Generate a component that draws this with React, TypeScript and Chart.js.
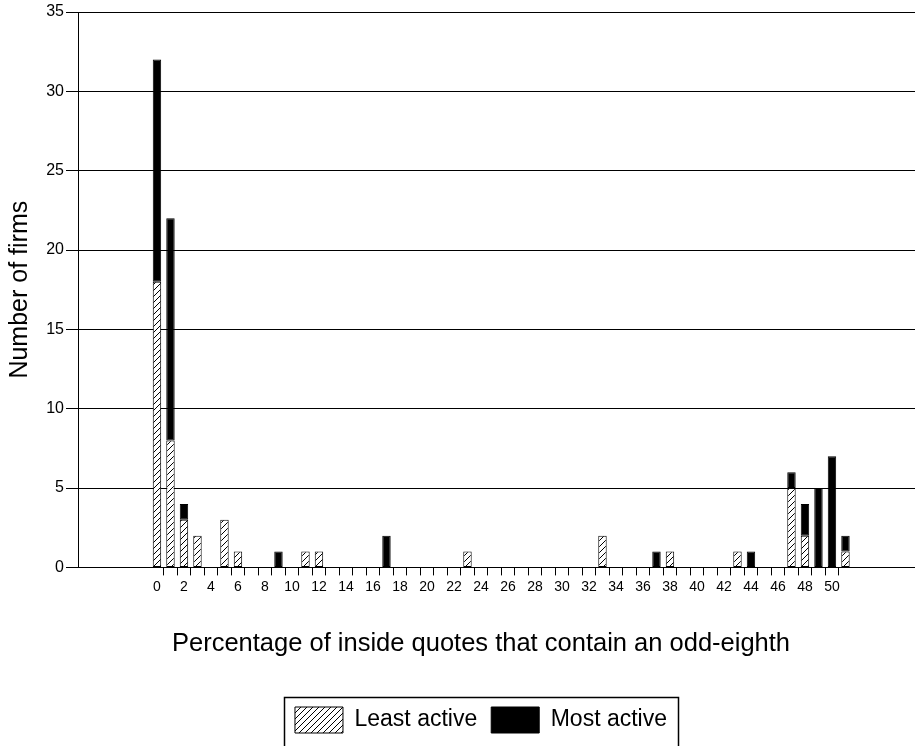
import React, { useEffect, useRef } from 'react';
import { Chart, registerables } from 'chart.js';

Chart.register(...registerables);

// Percentage of inside quotes containing an odd-eighth (one bar per percent)
const categories = [
  0, 1, 2, 3, 4, 5, 6, 7, 8, 9,
  10, 11, 12, 13, 14, 15, 16, 17, 18, 19,
  20, 21, 22, 23, 24, 25, 26, 27, 28, 29,
  30, 31, 32, 33, 34, 35, 36, 37, 38, 39,
  40, 41, 42, 43, 44, 45, 46, 47, 48, 49,
  50, 51,
];

// Number of firms, least active stocks (bottom of stack)
const leastActive = [
  18, 8, 3, 2, 0, 3, 1, 0, 0, 0,
  0, 1, 1, 0, 0, 0, 0, 0, 0, 0,
  0, 0, 0, 1, 0, 0, 0, 0, 0, 0,
  0, 0, 0, 2, 0, 0, 0, 0, 1, 0,
  0, 0, 0, 1, 0, 0, 0, 5, 2, 0,
  0, 1,
];

// Number of firms, most active stocks (top of stack)
const mostActive = [
  14, 14, 1, 0, 0, 0, 0, 0, 0, 1,
  0, 0, 0, 0, 0, 0, 0, 2, 0, 0,
  0, 0, 0, 0, 0, 0, 0, 0, 0, 0,
  0, 0, 0, 0, 0, 0, 0, 1, 0, 0,
  0, 0, 0, 0, 1, 0, 0, 1, 2, 5,
  7, 1,
];

// x tick labels that are printed
const xLabelValues = [
  0, 2, 4, 6, 8, 10, 12, 14, 16, 18, 20, 22, 24, 26,
  28, 30, 32, 34, 36, 38, 40, 42, 44, 46, 48, 50,
];

const seriesNames = ['Least active', 'Most active'];
const xTitle = 'Percentage of inside quotes that contain an odd-eighth';
const yTitle = 'Number of firms';

const FONT = "'Liberation Sans', Arial, Helvetica, sans-serif";

function makeHatch(): CanvasPattern | string {
  const size = 6;
  const c = document.createElement('canvas');
  c.width = size;
  c.height = size;
  const g = c.getContext('2d');
  if (!g) return '#fff';
  g.fillStyle = '#fff';
  g.fillRect(0, 0, size, size);
  g.strokeStyle = '#000';
  g.lineWidth = 1;
  g.beginPath();
  g.moveTo(-1, size + 1);
  g.lineTo(size + 1, -1);
  g.stroke();
  return g.createPattern(c, 'repeat') || '#fff';
}

const legendBorder = {
  id: 'legendBorder',
  afterDraw(chart: any) {
    const lg = chart.legend;
    if (!lg || !lg.legendHitBoxes || !lg.legendHitBoxes.length) return;
    const hb = lg.legendHitBoxes;
    const left = Math.min(...hb.map((h: any) => h.left)) - 11;
    const right = Math.max(...hb.map((h: any) => h.left + h.width)) + 11;
    const top = Math.min(...hb.map((h: any) => h.top)) - 10;
    const ctx = chart.ctx;
    ctx.save();
    ctx.strokeStyle = '#000';
    ctx.lineWidth = 1.5;
    ctx.strokeRect(Math.round(left) + 0.5, Math.round(top) + 0.5, Math.round(right - left), chart.height - top + 20);
    ctx.restore();
  },
};

export default function App() {
  const canvasRef = useRef<HTMLCanvasElement | null>(null);

  useEffect(() => {
    const canvas = canvasRef.current;
    if (!canvas) return;
    const hatch = makeHatch();

    const chart = new Chart(canvas, {
      type: 'bar',
      data: {
        labels: categories,
        datasets: [
          {
            label: seriesNames[0],
            data: leastActive,
            backgroundColor: hatch as any,
            borderColor: '#000',
            borderWidth: 1,
            borderSkipped: false,
            categoryPercentage: 0.8,
            barPercentage: 0.78,
          },
          {
            label: seriesNames[1],
            data: mostActive,
            backgroundColor: '#000',
            borderColor: '#000',
            borderWidth: 1,
            borderSkipped: false,
            categoryPercentage: 0.8,
            barPercentage: 0.78,
          },
        ],
      },
      options: {
        responsive: false,
        animation: false,
        events: [],
        layout: { padding: { left: 47, right: 0, top: 12, bottom: 3 } },
        plugins: {
          legend: {
            position: 'bottom',
            labels: {
              boxWidth: 48,
              boxHeight: 26,
              padding: 14,
              color: '#000',
              font: { family: FONT, size: 23 },
            },
          },
          title: {
            display: true,
            position: 'bottom',
            weight: 500,
            text: xTitle,
            color: '#000',
            font: { family: FONT, size: 25.5, weight: 'normal' },
            padding: { top: 31, bottom: 34 },
          },
          tooltip: { enabled: false },
        },
        scales: {
          x: {
            type: 'linear',
            stacked: true,
            min: -5.85,
            max: 56.15,
            offset: false,
            afterBuildTicks: (s: any) => {
              s.ticks = categories.map((v) => ({ value: v }));
            },
            afterFit: (s: any) => {
              s.height = 30;
            },
            grid: {
              display: true,
              offset: true,
              drawOnChartArea: false,
              drawTicks: true,
              tickLength: 8,
              lineWidth: 1,
              color: '#000',
              tickColor: (ctx: any) =>
                typeof ctx.index === 'number' && ctx.index >= 1 && ctx.index <= 51 ? '#000' : 'rgba(0,0,0,0)',
            },
            border: { display: true, color: '#000', width: 1 },
            ticks: {
              autoSkip: false,
              maxRotation: 0,
              minRotation: 0,
              padding: 3,
              color: '#000',
              font: { family: FONT, size: 14 },
              callback: (v: any) => (xLabelValues.includes(Number(v)) ? String(v) : ''),
            },
          } as any,
          y: {
            stacked: true,
            min: 0,
            max: 35,
            afterFit: (s: any) => {
              s.width = 31;
            },
            ticks: {
              stepSize: 5,
              padding: 2,
              color: '#000',
              font: { family: FONT, size: 16 },
            },
            grid: { color: '#000', lineWidth: 1, tickLength: 12, drawTicks: true },
            border: { color: '#000', width: 1 },
            title: {
              display: true,
              text: yTitle,
              color: '#000',
              font: { family: FONT, size: 25 },
              padding: { top: -42, bottom: 0 },
            },
          },
        },
      },
      plugins: [legendBorder],
    } as any);

    return () => chart.destroy();
  }, []);

  return (
    <div style={{ position: 'fixed', left: 0, top: 0, width: 915, height: 746, background: '#fff' }}>
      <canvas ref={canvasRef} width={915} height={746} />
    </div>
  );
}
